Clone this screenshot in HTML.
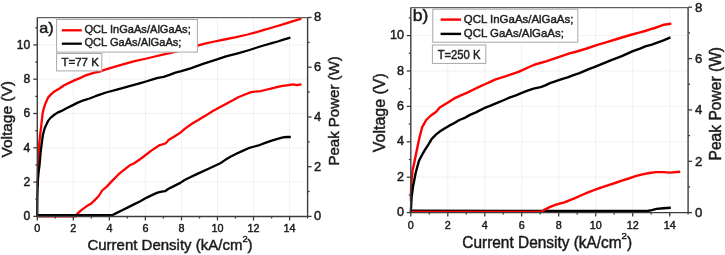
<!DOCTYPE html>
<html><head><meta charset="utf-8">
<style>
html,body{margin:0;padding:0;background:#fff;}
body{width:725px;height:255px;overflow:hidden;}
svg{display:block;will-change:transform;}
text{font-family:"Liberation Sans", sans-serif;fill:#1a1a1a;stroke:#1a1a1a;stroke-width:0.45;}
.lt{fill:#222;stroke:#222;}
.grid{stroke:#e3e3e3;stroke-width:1;stroke-dasharray:1 1;}
.fr{stroke:#3c3c3c;stroke-width:1.4;}
.top{stroke:#606060;}
.tk{stroke:#3c3c3c;stroke-width:1.3;}
.box{fill:#fff;stroke:#a8a8a8;stroke-width:1;}
</style></head>
<body>
<svg width="725" height="255" viewBox="0 0 725 255">
<rect width="725" height="255" fill="#fff"/>
<line x1="73.3" y1="17.6" x2="73.3" y2="216.5" class="grid"/>
<line x1="109.4" y1="17.6" x2="109.4" y2="216.5" class="grid"/>
<line x1="145.4" y1="17.6" x2="145.4" y2="216.5" class="grid"/>
<line x1="181.5" y1="17.6" x2="181.5" y2="216.5" class="grid"/>
<line x1="217.5" y1="17.6" x2="217.5" y2="216.5" class="grid"/>
<line x1="253.5" y1="17.6" x2="253.5" y2="216.5" class="grid"/>
<line x1="289.6" y1="17.6" x2="289.6" y2="216.5" class="grid"/>
<line x1="37.3" y1="182.1" x2="307.6" y2="182.1" class="grid"/>
<line x1="37.3" y1="147.8" x2="307.6" y2="147.8" class="grid"/>
<line x1="37.3" y1="113.5" x2="307.6" y2="113.5" class="grid"/>
<line x1="37.3" y1="79.2" x2="307.6" y2="79.2" class="grid"/>
<line x1="37.3" y1="44.9" x2="307.6" y2="44.9" class="grid"/>
<polyline points="37.4,216.3 76.0,216.3 76.2,214.9 81.0,210.4 86.5,206.3 91.3,203.5 94.7,200.1 98.8,196.0 102.2,190.5 107.0,186.4 111.9,181.1 118.7,174.2 125.6,168.7 129.7,165.3 133.8,163.5 139.3,159.8 145.0,155.5 151.3,150.6 156.0,147.5 159.1,145.4 165.4,143.5 167.0,142.0 168.5,140.1 173.2,137.3 179.5,133.3 185.0,128.6 191.9,123.8 198.7,119.7 205.6,115.6 212.4,111.2 219.3,107.6 225.0,104.5 231.9,100.8 238.7,97.0 245.6,94.2 251.1,92.1 255.2,91.7 260.7,91.2 265.0,90.0 270.9,88.6 276.8,87.1 282.6,85.9 288.5,85.1 293.2,84.4 296.8,85.1 301.5,84.4" fill="none" stroke="#f00" stroke-width="2.3" stroke-linejoin="round" stroke-linecap="butt"/>
<polyline points="37.4,215.2 112.1,215.2 116.8,212.9 122.6,210.0 128.5,207.1 134.4,204.1 140.3,201.2 145.0,198.5 150.9,195.6 156.8,192.9 160.3,191.8 165.0,191.2 168.5,188.8 174.4,185.9 180.3,182.9 185.0,179.7 196.8,174.1 208.5,168.8 220.3,163.2 225.0,160.1 230.9,156.5 236.8,153.5 242.6,150.9 248.5,148.2 254.4,146.5 260.3,144.8 265.9,142.6 271.8,140.6 277.6,138.9 282.9,137.4 287.1,137.0 290.8,137.0" fill="none" stroke="#000" stroke-width="2.3" stroke-linejoin="round" stroke-linecap="butt"/>
<polyline points="37.7,186.0 37.9,172.0 38.7,151.7 39.5,140.7 40.1,135.0 40.8,129.7 41.6,122.6 42.5,114.4 43.4,109.7 45.4,103.5 48.4,97.1 51.3,94.1 54.8,91.2 59.5,88.5 64.2,85.3 70.1,82.4 75.0,80.1 79.9,78.1 84.8,75.7 89.7,74.2 94.6,72.7 99.5,71.6 104.4,69.8 109.3,68.3 115.0,66.7 124.8,63.9 134.6,61.2 144.4,59.0 155.0,56.5 162.8,54.7 170.7,53.0 176.0,51.6 197.5,45.7 204.8,43.6 214.6,41.5 224.4,39.5 235.0,37.4 247.7,34.5 256.5,32.2 265.0,29.6 274.0,27.0 283.0,24.3 291.5,21.6 300.7,18.8 301.4,18.6" fill="none" stroke="#f00" stroke-width="2.3" stroke-linejoin="round" stroke-linecap="butt"/>
<polyline points="37.2,216.0 37.4,195.0 37.9,180.0 38.8,170.3 39.5,165.4 40.6,152.6 41.7,143.5 42.9,135.0 44.6,128.5 46.4,124.4 48.1,120.9 50.5,117.9 54.0,115.0 57.5,112.6 61.6,110.9 66.0,108.5 71.9,105.6 77.8,102.6 83.6,100.3 89.5,98.5 95.4,96.2 101.3,94.2 106.0,92.5 117.8,89.4 129.5,86.2 141.3,82.9 146.0,81.5 151.9,79.7 157.8,77.9 163.6,76.8 169.5,74.8 175.4,72.6 181.3,71.2 190.6,68.3 203.0,63.9 217.1,59.4 226.0,56.4 237.8,53.3 249.5,50.0 258.6,47.0 265.3,45.0 271.8,43.2 277.7,41.5 283.5,39.6 290.4,37.6" fill="none" stroke="#000" stroke-width="2.3" stroke-linejoin="round" stroke-linecap="butt"/>
<line x1="37.3" y1="17.6" x2="307.6" y2="17.6" class="fr top"/>
<line x1="37.3" y1="17.6" x2="37.3" y2="216.5" class="fr"/>
<line x1="307.6" y1="17.6" x2="307.6" y2="216.5" class="fr"/>
<line x1="37.3" y1="216.5" x2="307.6" y2="216.5" class="fr"/>
<line x1="33.3" y1="216.4" x2="37.3" y2="216.4" class="tk"/>
<line x1="35.3" y1="199.2" x2="37.3" y2="199.2" class="tk"/>
<line x1="33.3" y1="182.1" x2="37.3" y2="182.1" class="tk"/>
<line x1="35.3" y1="165.0" x2="37.3" y2="165.0" class="tk"/>
<line x1="33.3" y1="147.8" x2="37.3" y2="147.8" class="tk"/>
<line x1="35.3" y1="130.7" x2="37.3" y2="130.7" class="tk"/>
<line x1="33.3" y1="113.5" x2="37.3" y2="113.5" class="tk"/>
<line x1="35.3" y1="96.4" x2="37.3" y2="96.4" class="tk"/>
<line x1="33.3" y1="79.2" x2="37.3" y2="79.2" class="tk"/>
<line x1="35.3" y1="62.1" x2="37.3" y2="62.1" class="tk"/>
<line x1="33.3" y1="44.9" x2="37.3" y2="44.9" class="tk"/>
<line x1="35.3" y1="27.8" x2="37.3" y2="27.8" class="tk"/>
<line x1="307.6" y1="216.4" x2="311.6" y2="216.4" class="tk"/>
<line x1="307.6" y1="191.5" x2="309.6" y2="191.5" class="tk"/>
<line x1="307.6" y1="166.7" x2="311.6" y2="166.7" class="tk"/>
<line x1="307.6" y1="141.8" x2="309.6" y2="141.8" class="tk"/>
<line x1="307.6" y1="117.0" x2="311.6" y2="117.0" class="tk"/>
<line x1="307.6" y1="92.1" x2="309.6" y2="92.1" class="tk"/>
<line x1="307.6" y1="67.2" x2="311.6" y2="67.2" class="tk"/>
<line x1="307.6" y1="42.4" x2="309.6" y2="42.4" class="tk"/>
<line x1="307.6" y1="17.5" x2="311.6" y2="17.5" class="tk"/>
<line x1="37.3" y1="216.5" x2="37.3" y2="220.5" class="tk"/>
<line x1="55.3" y1="216.5" x2="55.3" y2="218.5" class="tk"/>
<line x1="73.3" y1="216.5" x2="73.3" y2="220.5" class="tk"/>
<line x1="91.4" y1="216.5" x2="91.4" y2="218.5" class="tk"/>
<line x1="109.4" y1="216.5" x2="109.4" y2="220.5" class="tk"/>
<line x1="127.4" y1="216.5" x2="127.4" y2="218.5" class="tk"/>
<line x1="145.4" y1="216.5" x2="145.4" y2="220.5" class="tk"/>
<line x1="163.4" y1="216.5" x2="163.4" y2="218.5" class="tk"/>
<line x1="181.5" y1="216.5" x2="181.5" y2="220.5" class="tk"/>
<line x1="199.5" y1="216.5" x2="199.5" y2="218.5" class="tk"/>
<line x1="217.5" y1="216.5" x2="217.5" y2="220.5" class="tk"/>
<line x1="235.5" y1="216.5" x2="235.5" y2="218.5" class="tk"/>
<line x1="253.5" y1="216.5" x2="253.5" y2="220.5" class="tk"/>
<line x1="271.6" y1="216.5" x2="271.6" y2="218.5" class="tk"/>
<line x1="289.6" y1="216.5" x2="289.6" y2="220.5" class="tk"/>
<line x1="307.6" y1="216.5" x2="307.6" y2="218.5" class="tk"/>
<text x="30.2" y="220.3" font-size="12.2" text-anchor="end">0</text>
<text x="30.2" y="186.0" font-size="12.2" text-anchor="end">2</text>
<text x="30.2" y="151.7" font-size="12.2" text-anchor="end">4</text>
<text x="30.2" y="117.4" font-size="12.2" text-anchor="end">6</text>
<text x="30.2" y="83.1" font-size="12.2" text-anchor="end">8</text>
<text x="30.2" y="48.8" font-size="12.2" text-anchor="end">10</text>
<text x="314.1" y="220.3" font-size="12.9" text-anchor="start">0</text>
<text x="314.1" y="170.6" font-size="12.9" text-anchor="start">2</text>
<text x="314.1" y="120.9" font-size="12.9" text-anchor="start">4</text>
<text x="314.1" y="71.2" font-size="12.9" text-anchor="start">6</text>
<text x="314.1" y="21.4" font-size="12.9" text-anchor="start">8</text>
<text x="37.3" y="232.4" font-size="10.8" text-anchor="middle">0</text>
<text x="73.3" y="232.4" font-size="10.8" text-anchor="middle">2</text>
<text x="109.4" y="232.4" font-size="10.8" text-anchor="middle">4</text>
<text x="145.4" y="232.4" font-size="10.8" text-anchor="middle">6</text>
<text x="181.5" y="232.4" font-size="10.8" text-anchor="middle">8</text>
<text x="217.5" y="232.4" font-size="10.8" text-anchor="middle">10</text>
<text x="253.5" y="232.4" font-size="10.8" text-anchor="middle">12</text>
<text x="289.6" y="232.4" font-size="10.8" text-anchor="middle">14</text>
<text transform="translate(12.1,119.3) rotate(-90) scale(1.033,1)" font-size="15" text-anchor="middle">Voltage (V)</text>
<text transform="translate(339.2,110.9) rotate(-90) scale(1.0,1)" font-size="15" text-anchor="middle">Peak Power (W)</text>
<text transform="translate(170,249.8) scale(1.0,1)" font-size="15" text-anchor="middle">Current Density (kA/cm<tspan dy="-8.3" font-size="9.3">2</tspan><tspan dy="8.3">)</tspan></text>
<text transform="translate(39.3,33.1) scale(1.08,1)" font-size="15">a)</text>
<rect x="56.6" y="19.5" width="140.8" height="32.6" class="box"/>
<line x1="61.8" y1="30.3" x2="81.8" y2="30.3" stroke="#f00" stroke-width="2.3"/>
<line x1="61.8" y1="43.7" x2="81.8" y2="43.7" stroke="#000" stroke-width="2.3"/>
<text transform="translate(84.4,33.0) scale(0.966,1)" font-size="11.5" class="lt">QCL InGaAs/AlGaAs;</text>
<text transform="translate(84.4,46.4) scale(0.966,1)" font-size="11.5" class="lt">QCL GaAs/AlGaAs;</text>
<rect x="56.6" y="53.5" width="45.2" height="17.4" class="box"/>
<text transform="translate(61.4,66.3) scale(1.0,1)" font-size="11.5" class="lt">T=77 K</text>
<line x1="447.8" y1="7.6" x2="447.8" y2="212.6" class="grid"/>
<line x1="484.8" y1="7.6" x2="484.8" y2="212.6" class="grid"/>
<line x1="521.7" y1="7.6" x2="521.7" y2="212.6" class="grid"/>
<line x1="558.7" y1="7.6" x2="558.7" y2="212.6" class="grid"/>
<line x1="595.7" y1="7.6" x2="595.7" y2="212.6" class="grid"/>
<line x1="632.7" y1="7.6" x2="632.7" y2="212.6" class="grid"/>
<line x1="669.7" y1="7.6" x2="669.7" y2="212.6" class="grid"/>
<line x1="410.8" y1="177.2" x2="688.1" y2="177.2" class="grid"/>
<line x1="410.8" y1="141.8" x2="688.1" y2="141.8" class="grid"/>
<line x1="410.8" y1="106.4" x2="688.1" y2="106.4" class="grid"/>
<line x1="410.8" y1="71.0" x2="688.1" y2="71.0" class="grid"/>
<line x1="410.8" y1="35.6" x2="688.1" y2="35.6" class="grid"/>
<polyline points="410.8,210.8 647.6,211.0 651.8,210.1 656.5,208.9 663.5,208.3 670.8,207.7" fill="none" stroke="#000" stroke-width="2.4" stroke-linejoin="round" stroke-linecap="butt"/>
<polyline points="410.8,211.9 541.4,211.9 544.8,209.6 549.7,207.2 554.6,205.2 559.5,203.7 564.4,202.3 569.3,200.3 575.0,198.1 581.9,195.0 588.7,192.2 595.6,189.5 602.4,187.1 609.3,184.8 615.0,183.0 621.9,180.6 628.7,178.5 635.6,176.2 642.4,174.4 649.3,173.0 656.2,172.1 663.0,172.1 669.9,172.6 680.2,171.7" fill="none" stroke="#f00" stroke-width="2.4" stroke-linejoin="round" stroke-linecap="butt"/>
<polyline points="410.9,201.0 411.0,191.8 411.5,181.2 412.5,170.6 413.8,165.0 414.8,160.1 417.2,148.3 419.7,136.6 422.3,126.8 424.6,122.8 426.2,120.0 430.3,116.0 436.2,111.8 439.7,107.6 446.8,103.2 455.0,98.1 460.9,95.3 466.8,92.9 472.6,90.0 478.5,87.1 484.4,84.5 490.3,81.8 495.0,79.7 506.8,75.9 518.5,71.8 530.3,66.5 535.0,64.5 546.8,61.2 558.5,57.1 570.3,53.2 575.0,52.0 586.8,48.5 595.0,45.6 606.8,42.1 618.6,38.5 630.3,35.0 640.0,32.3 645.0,31.0 650.0,29.4 654.7,28.0 659.4,26.3 664.1,24.7 668.8,24.0 671.3,23.8" fill="none" stroke="#f00" stroke-width="2.4" stroke-linejoin="round" stroke-linecap="butt"/>
<polyline points="410.8,212.0 411.0,208.7 411.5,198.1 413.2,185.4 415.7,172.7 418.9,161.0 421.7,155.5 424.6,150.3 428.5,144.4 431.8,138.8 435.9,134.7 439.4,131.8 444.1,128.8 448.8,125.9 453.5,123.5 459.4,120.0 464.1,118.2 470.0,114.9 475.9,112.4 481.8,109.4 484.1,108.2 490.0,105.9 497.1,102.9 504.1,100.0 510.0,97.4 515.9,95.3 521.8,92.9 527.6,90.6 533.5,88.6 540.6,87.1 545.3,85.3 550.0,83.1 555.9,81.1 561.8,79.1 567.6,77.4 573.5,75.2 579.4,73.2 585.3,70.6 590.0,68.6 593.5,67.4 605.3,62.6 610.0,60.6 621.8,56.2 633.5,50.9 640.0,48.6 645.3,46.4 651.8,44.6 663.5,40.3 670.5,37.4" fill="none" stroke="#000" stroke-width="2.4" stroke-linejoin="round" stroke-linecap="butt"/>
<line x1="410.8" y1="7.6" x2="688.1" y2="7.6" class="fr top"/>
<line x1="410.8" y1="7.6" x2="410.8" y2="212.6" class="fr"/>
<line x1="688.1" y1="7.6" x2="688.1" y2="212.6" class="fr"/>
<line x1="410.8" y1="212.6" x2="688.1" y2="212.6" class="fr"/>
<line x1="406.8" y1="212.6" x2="410.8" y2="212.6" class="tk"/>
<line x1="408.8" y1="194.9" x2="410.8" y2="194.9" class="tk"/>
<line x1="406.8" y1="177.2" x2="410.8" y2="177.2" class="tk"/>
<line x1="408.8" y1="159.5" x2="410.8" y2="159.5" class="tk"/>
<line x1="406.8" y1="141.8" x2="410.8" y2="141.8" class="tk"/>
<line x1="408.8" y1="124.1" x2="410.8" y2="124.1" class="tk"/>
<line x1="406.8" y1="106.4" x2="410.8" y2="106.4" class="tk"/>
<line x1="408.8" y1="88.7" x2="410.8" y2="88.7" class="tk"/>
<line x1="406.8" y1="71.0" x2="410.8" y2="71.0" class="tk"/>
<line x1="408.8" y1="53.3" x2="410.8" y2="53.3" class="tk"/>
<line x1="406.8" y1="35.6" x2="410.8" y2="35.6" class="tk"/>
<line x1="408.8" y1="17.9" x2="410.8" y2="17.9" class="tk"/>
<line x1="688.1" y1="212.6" x2="692.1" y2="212.6" class="tk"/>
<line x1="688.1" y1="186.9" x2="690.1" y2="186.9" class="tk"/>
<line x1="688.1" y1="161.3" x2="692.1" y2="161.3" class="tk"/>
<line x1="688.1" y1="135.6" x2="690.1" y2="135.6" class="tk"/>
<line x1="688.1" y1="109.9" x2="692.1" y2="109.9" class="tk"/>
<line x1="688.1" y1="84.2" x2="690.1" y2="84.2" class="tk"/>
<line x1="688.1" y1="58.6" x2="692.1" y2="58.6" class="tk"/>
<line x1="688.1" y1="32.9" x2="690.1" y2="32.9" class="tk"/>
<line x1="688.1" y1="7.2" x2="692.1" y2="7.2" class="tk"/>
<line x1="410.8" y1="212.6" x2="410.8" y2="216.6" class="tk"/>
<line x1="429.3" y1="212.6" x2="429.3" y2="214.6" class="tk"/>
<line x1="447.8" y1="212.6" x2="447.8" y2="216.6" class="tk"/>
<line x1="466.3" y1="212.6" x2="466.3" y2="214.6" class="tk"/>
<line x1="484.8" y1="212.6" x2="484.8" y2="216.6" class="tk"/>
<line x1="503.2" y1="212.6" x2="503.2" y2="214.6" class="tk"/>
<line x1="521.7" y1="212.6" x2="521.7" y2="216.6" class="tk"/>
<line x1="540.2" y1="212.6" x2="540.2" y2="214.6" class="tk"/>
<line x1="558.7" y1="212.6" x2="558.7" y2="216.6" class="tk"/>
<line x1="577.2" y1="212.6" x2="577.2" y2="214.6" class="tk"/>
<line x1="595.7" y1="212.6" x2="595.7" y2="216.6" class="tk"/>
<line x1="614.2" y1="212.6" x2="614.2" y2="214.6" class="tk"/>
<line x1="632.7" y1="212.6" x2="632.7" y2="216.6" class="tk"/>
<line x1="651.2" y1="212.6" x2="651.2" y2="214.6" class="tk"/>
<line x1="669.7" y1="212.6" x2="669.7" y2="216.6" class="tk"/>
<line x1="688.1" y1="212.6" x2="688.1" y2="214.6" class="tk"/>
<text x="404.0" y="216.1" font-size="12.6" text-anchor="end">0</text>
<text x="404.0" y="180.7" font-size="12.6" text-anchor="end">2</text>
<text x="404.0" y="145.3" font-size="12.6" text-anchor="end">4</text>
<text x="404.0" y="109.9" font-size="12.6" text-anchor="end">6</text>
<text x="404.0" y="74.5" font-size="12.6" text-anchor="end">8</text>
<text x="404.0" y="39.1" font-size="12.6" text-anchor="end">10</text>
<text x="694.9" y="216.9" font-size="13.2" text-anchor="start">0</text>
<text x="694.9" y="165.6" font-size="13.2" text-anchor="start">2</text>
<text x="694.9" y="114.2" font-size="13.2" text-anchor="start">4</text>
<text x="694.9" y="62.9" font-size="13.2" text-anchor="start">6</text>
<text x="694.9" y="11.6" font-size="13.2" text-anchor="start">8</text>
<text x="410.8" y="228.9" font-size="10.8" text-anchor="middle">0</text>
<text x="447.8" y="228.9" font-size="10.8" text-anchor="middle">2</text>
<text x="484.8" y="228.9" font-size="10.8" text-anchor="middle">4</text>
<text x="521.7" y="228.9" font-size="10.8" text-anchor="middle">6</text>
<text x="558.7" y="228.9" font-size="10.8" text-anchor="middle">8</text>
<text x="595.7" y="228.9" font-size="10.8" text-anchor="middle">10</text>
<text x="632.7" y="228.9" font-size="10.8" text-anchor="middle">12</text>
<text x="669.7" y="228.9" font-size="10.8" text-anchor="middle">14</text>
<text transform="translate(385.2,112.75) rotate(-90) scale(1.025,1)" font-size="15.6" text-anchor="middle">Voltage (V)</text>
<text transform="translate(721.1,103.7) rotate(-90) scale(1.0,1)" font-size="15.6" text-anchor="middle">Peak Power (W)</text>
<text transform="translate(547.2,248.2) scale(0.989,1)" font-size="15.6" text-anchor="middle">Current Density (kA/cm<tspan dy="-8.8" font-size="9.7">2</tspan><tspan dy="8.8">)</tspan></text>
<text transform="translate(412.8,21.4) scale(1.12,1)" font-size="15.6">b)</text>
<rect x="432.8" y="9.2" width="145" height="33" class="box"/>
<line x1="440.6" y1="19.6" x2="461.1" y2="19.6" stroke="#f00" stroke-width="2.4"/>
<line x1="440.6" y1="33.9" x2="461.1" y2="33.9" stroke="#000" stroke-width="2.4"/>
<text transform="translate(463.8,23.0) scale(0.995,1)" font-size="11.5" class="lt">QCL InGaAs/AlGaAs;</text>
<text transform="translate(463.8,37.0) scale(0.995,1)" font-size="11.5" class="lt">QCL GaAs/AlGaAs;</text>
<rect x="432.4" y="45" width="53.4" height="18.4" class="box"/>
<text transform="translate(437.7,58.5) scale(0.936,1)" font-size="12" class="lt">T=250 K</text>
</svg>
</body></html>
